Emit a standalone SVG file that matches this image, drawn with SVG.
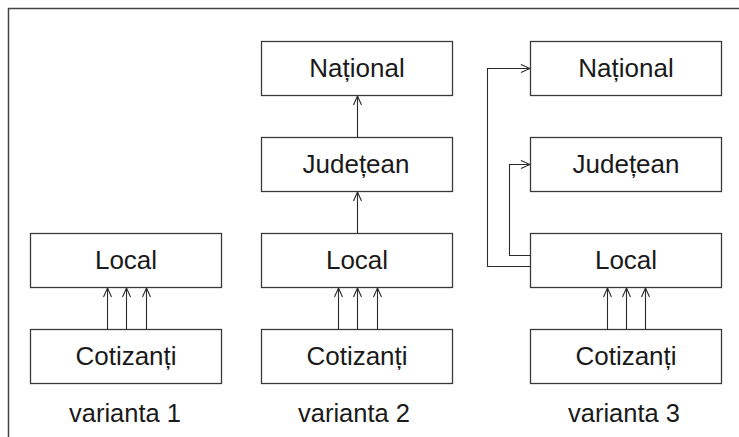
<svg xmlns="http://www.w3.org/2000/svg" width="739" height="437" viewBox="0 0 739 437">
<defs>
<style>
.box{fill:#fff;stroke:#3a3a3a;stroke-width:1.3}
.t{font-family:"Liberation Sans",Arial,sans-serif;font-size:26px;fill:#1a1a1a;text-anchor:middle}
.l{font-size:25.5px}
.c{fill:none;stroke:#2a2a2a;stroke-width:1.1}
</style>
<marker id="ah" viewBox="0 0 10 10" refX="10" refY="5" markerWidth="10" markerHeight="10" markerUnits="userSpaceOnUse" orient="auto">
<path d="M1,1 L10,5 L1,9" fill="none" stroke="#2a2a2a" stroke-width="1.1"/>
</marker>
</defs>
<rect width="739" height="437" fill="#fff"/>
<path d="M8.5,437 V8.5 H739" fill="none" stroke="#444" stroke-width="1.5"/>

<g id="v1-local"><rect class="box" x="30.5" y="233.5" width="191" height="54"/><text class="t" x="126" y="269">Local</text></g>
<g id="v1-cotizanti"><rect class="box" x="30.5" y="329.5" width="191" height="54"/><text class="t" x="126" y="365">Cotizanți</text></g>
<text class="t l" x="125" y="422">varianta 1</text>

<g id="v2-national"><rect class="box" x="261.5" y="41.5" width="191" height="54"/><text class="t" x="357" y="77">Național</text></g>
<g id="v2-judetean"><rect class="box" x="261.5" y="137.5" width="191" height="54"/><text class="t" x="356" y="173">Județean</text></g>
<g id="v2-local"><rect class="box" x="261.5" y="233.5" width="191" height="54"/><text class="t" x="357" y="269">Local</text></g>
<g id="v2-cotizanti"><rect class="box" x="261.5" y="329.5" width="191" height="54"/><text class="t" x="357" y="365">Cotizanți</text></g>
<text class="t l" x="354" y="422">varianta 2</text>

<g id="v3-national"><rect class="box" x="530.5" y="41.5" width="191" height="54"/><text class="t" x="626" y="77">Național</text></g>
<g id="v3-judetean"><rect class="box" x="530.5" y="137.5" width="191" height="54"/><text class="t" x="626" y="173">Județean</text></g>
<g id="v3-local"><rect class="box" x="530.5" y="233.5" width="191" height="54"/><text class="t" x="626" y="269">Local</text></g>
<g id="v3-cotizanti"><rect class="box" x="530.5" y="329.5" width="191" height="54"/><text class="t" x="626" y="365">Cotizanți</text></g>
<text class="t l" x="624" y="422">varianta 3</text>

<g id="connectors">
<line class="c" x1="107.5" y1="329.5" x2="107.5" y2="288" marker-end="url(#ah)"/>
<line class="c" x1="126.5" y1="329.5" x2="126.5" y2="288" marker-end="url(#ah)"/>
<line class="c" x1="146.5" y1="329.5" x2="146.5" y2="288" marker-end="url(#ah)"/>

<line class="c" x1="338.5" y1="329.5" x2="338.5" y2="288" marker-end="url(#ah)"/>
<line class="c" x1="357.5" y1="329.5" x2="357.5" y2="288" marker-end="url(#ah)"/>
<line class="c" x1="377.5" y1="329.5" x2="377.5" y2="288" marker-end="url(#ah)"/>
<line class="c" x1="357.5" y1="233.5" x2="357.5" y2="192" marker-end="url(#ah)"/>
<line class="c" x1="357.5" y1="137.5" x2="357.5" y2="96" marker-end="url(#ah)"/>

<line class="c" x1="607.5" y1="329.5" x2="607.5" y2="288" marker-end="url(#ah)"/>
<line class="c" x1="626.5" y1="329.5" x2="626.5" y2="288" marker-end="url(#ah)"/>
<line class="c" x1="645.5" y1="329.5" x2="645.5" y2="288" marker-end="url(#ah)"/>
<path class="c" d="M530.5,266.5 H487.5 V68.5 H530" marker-end="url(#ah)"/>
<path class="c" d="M530.5,255.5 H509.5 V164.5 H530" marker-end="url(#ah)"/>
</g>
</svg>
